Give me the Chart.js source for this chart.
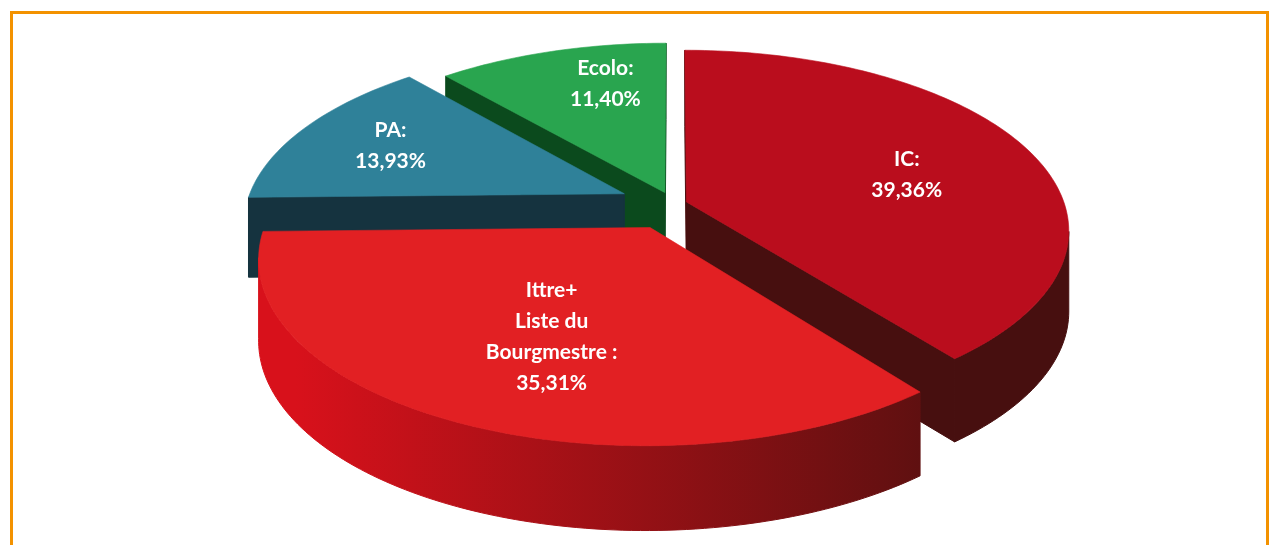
<!DOCTYPE html>
<html>
<head>
<meta charset="utf-8">
<title>Résultats</title>
<script src="https://cdn.jsdelivr.net/npm/chart.js@4.4.1/dist/chart.umd.min.js"></script>
<style>
  html, body { margin: 0; padding: 0; background: #fff; overflow: hidden; }
  #wrap { position: relative; width: 1278px; height: 545px; }
  #frame { position: absolute; left: 10px; top: 11px; width: 1253px; height: 600px; border: 3px solid #F39200; }
  #box { position: absolute; left: 0; top: 0; width: 1278px; height: 545px; }
</style>
</head>
<body>
<div id="wrap">
  <div id="frame"></div>
  <div id="box"><canvas id="pieChart"></canvas></div>
</div>
<script>
// ---- data ----
const categories = ['IC:', 'Ittre+\nListe du\nBourgmestre :', 'PA:', 'Ecolo:'];
const values = [39.36, 35.31, 13.93, 11.40];

// ---- styles ----
const topColors = ['#BA0D1D', '#E22023', '#2F8199', '#29A54F'];
const sideLight = ['#470F0F', '#D8111B', '#15333F', '#0B4A1D'];
const sideDark = ['#470F0F', '#5C1010', '#15333F', '#0B4A1D'];
const explode = [7, 29, 29, 14];
const labelR = [0.62, 0.59, 0.72, 0.72];
const labelT = [0.53, 0.48, 0.5, 0.65];

// 3d view: centre on screen, half axes, perspective, thickness
const view = { cx: 674, cy: 204, a: 378, b: 176, persp: 0.156, depth: 80 };

function fmt(v) {
  return v.toFixed(2).replace('.', ',') + '%';
}

// map a point of the flat pie (radius fraction r, angle ang) to the tilted view
function project(el, r, ang, z) {
  const R = el.outerRadius;
  const mid = (el.startAngle + el.endAngle) / 2;
  const off = el.options.offset || 0;
  const X = Math.cos(ang) * r * R + Math.cos(mid) * off;
  const Y = Math.sin(ang) * r * R + Math.sin(mid) * off;
  const u = X / R, w = -Y / R;
  const s = 1 / (1 + view.persp * w);
  return {
    x: view.cx + view.a * u * s,
    y: view.cy - view.b * w * s + z * view.depth * Math.pow(s, 0.3)
  };
}

function farness(el) {
  const mid = (el.startAngle + el.endAngle) / 2;
  return -Math.sin(mid) * (0.5 + (el.options.offset || 0) / el.outerRadius);
}

function area(pts) {
  let s = 0;
  for (let k = 0; k < pts.length; k++) {
    const p = pts[k], q = pts[(k + 1) % pts.length];
    s += p.x * q.y - q.x * p.y;
  }
  return s / 2;
}

function poly(ctx, pts, fill) {
  ctx.beginPath();
  pts.forEach((p, k) => k ? ctx.lineTo(p.x, p.y) : ctx.moveTo(p.x, p.y));
  ctx.closePath();
  ctx.fillStyle = fill;
  ctx.strokeStyle = fill;
  ctx.lineWidth = 1;
  ctx.fill();
  ctx.stroke();
}

function rimAngles(el) {
  const span = el.endAngle - el.startAngle;
  const steps = Math.max(6, Math.ceil(span / 0.02));
  const list = [];
  for (let k = 0; k <= steps; k++) list.push(el.startAngle + span * k / steps);
  return list;
}

function drawWalls(ctx, el, i) {
  const T = (r, a) => project(el, r, a, 0);
  const B = (r, a) => project(el, r, a, 1);
  const s = el.startAngle, e = el.endAngle;

  // straight walls from the centre
  const startWall = [T(0, s), T(1, s), B(1, s), B(0, s)];
  const endWall = [T(1, e), T(0, e), B(0, e), B(1, e)];
  [startWall, endWall].forEach(q => { if (area(q) < 0) poly(ctx, q, sideDark[i]); });

  // curved outer wall, front facing parts only
  const grad = ctx.createLinearGradient(view.cx - view.a, 0, view.cx + view.a * 0.7, 0);
  grad.addColorStop(0, sideLight[i]);
  grad.addColorStop(1, sideDark[i]);
  const angs = rimAngles(el);
  let run = [];
  const flush = () => {
    if (run.length > 1) {
      const pts = run.map(a => T(1, a)).concat(run.slice().reverse().map(a => B(1, a)));
      poly(ctx, pts, grad);
    }
    run = [];
  };
  for (let k = 0; k < angs.length - 1; k++) {
    const a1 = angs[k], a2 = angs[k + 1];
    const q = [T(1, a1), T(1, a2), B(1, a2), B(1, a1)];
    if (area(q) < 0) {
      if (!run.length) run.push(a1);
      run.push(a2);
    } else {
      flush();
    }
  }
  flush();
}

function drawTop(ctx, el, i) {
  const pts = [project(el, 0, el.startAngle, 0)].concat(rimAngles(el).map(a => project(el, 1, a, 0)));
  ctx.beginPath();
  pts.forEach((p, k) => k ? ctx.lineTo(p.x, p.y) : ctx.moveTo(p.x, p.y));
  ctx.closePath();
  ctx.fillStyle = topColors[i];
  ctx.strokeStyle = topColors[i];
  ctx.lineWidth = 0.6;
  ctx.fill();
  ctx.stroke();
}

function drawLabel(chart, el, i) {
  const ctx = chart.ctx;
  const a = el.startAngle + (el.endAngle - el.startAngle) * labelT[i];
  const p = project(el, labelR[i], a, 0);
  const lines = chart.data.labels[i].split('\n').concat(fmt(chart.data.datasets[0].data[i]));
  ctx.font = 'bold 21px Lato';
  ctx.fillStyle = '#FFFFFF';
  ctx.textAlign = 'center';
  ctx.textBaseline = 'middle';
  const lh = 31;
  lines.forEach((t, k) => ctx.fillText(t, p.x, p.y + (k - (lines.length - 1) / 2) * lh));
}

const pie3d = {
  id: 'pie3d',
  beforeDatasetsDraw(chart) {
    const ctx = chart.ctx;
    const arcs = chart.getDatasetMeta(0).data;
    const order = arcs.map((el, i) => i).sort((i, j) => farness(arcs[j]) - farness(arcs[i]));
    ctx.save();
    order.forEach(i => drawWalls(ctx, arcs[i], i));
    arcs.forEach((el, i) => drawTop(ctx, el, i));
    arcs.forEach((el, i) => drawLabel(chart, el, i));
    ctx.restore();
    return false;
  }
};

new Chart(document.getElementById('pieChart'), {
  type: 'pie',
  data: {
    labels: categories,
    datasets: [{
      data: values,
      backgroundColor: topColors,
      borderWidth: 0,
      offset: explode,
      radius: 200
    }]
  },
  options: {
    responsive: true,
    maintainAspectRatio: false,
    animation: false,
    layout: { padding: 0 },
    plugins: {
      legend: { display: false },
      tooltip: { enabled: false }
    }
  },
  plugins: [pie3d]
});
</script>
</body>
</html>
